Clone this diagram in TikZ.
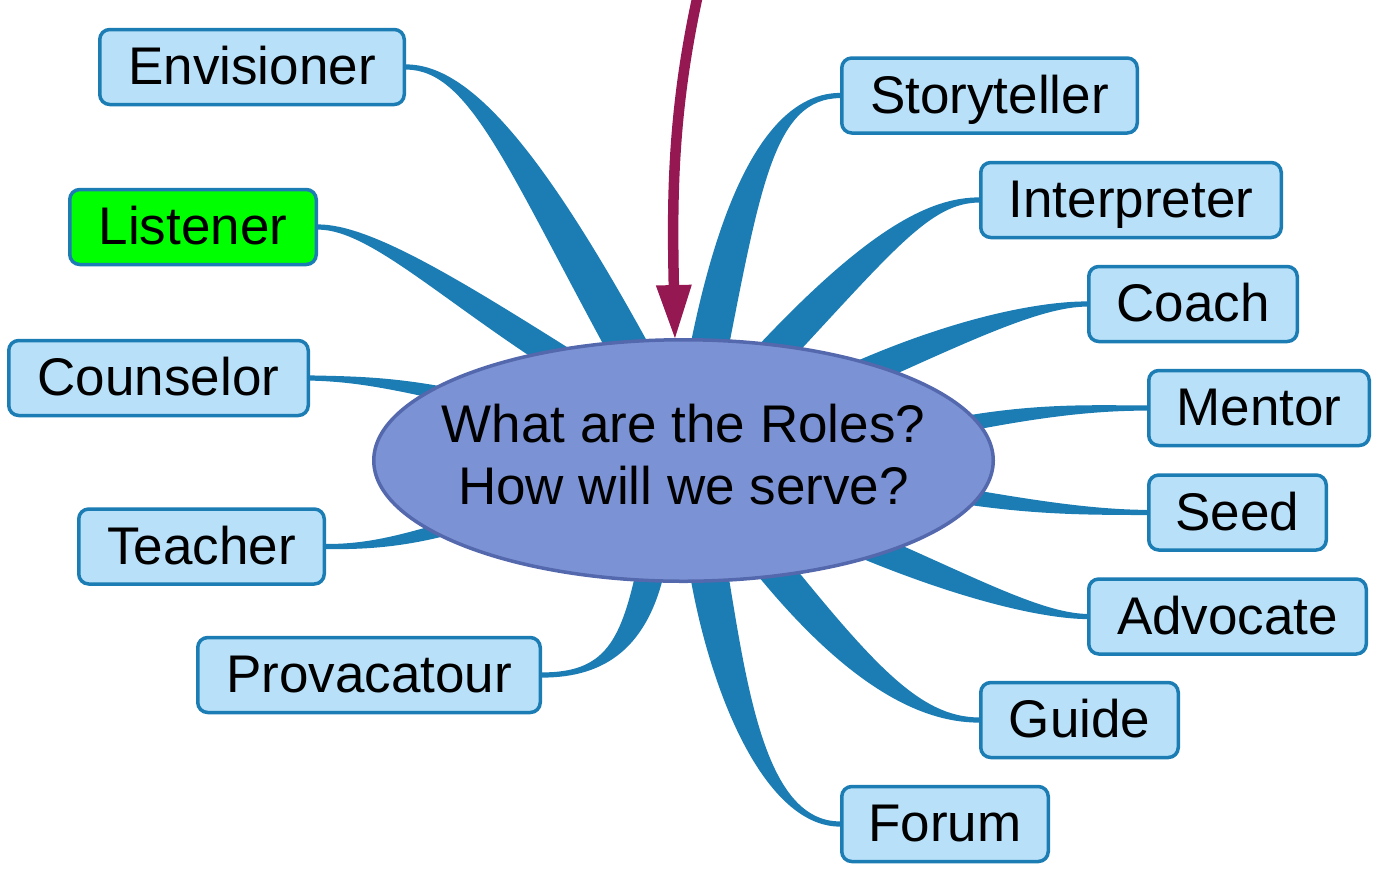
\documentclass[tikz,border=0pt]{standalone}
\usepackage{fontspec}
\setmainfont{Liberation Sans}
\usetikzlibrary{shapes.geometric,calc,arrows.meta,backgrounds}
\definecolor{branchblue}{HTML}{1B7DB3}
\definecolor{boxfill}{HTML}{B8E0F8}
\definecolor{hubfill}{HTML}{7B93D4}
\definecolor{hubline}{HTML}{5468AD}
\definecolor{arrowred}{HTML}{961852}
\definecolor{listengreen}{HTML}{00FF00}
% tapered branch: #1 thin end, #2 #3 controls, #4 thick end, #5 thin half-width, #6 thick half-width
\newcommand\twig[6]{%
\fill[branchblue] ($(#1)!#5!90:(#2)$) .. controls ($(#2)!#5!-90:(#1)$) and ($(#3)!#6!90:(#4)$) .. ($(#4)!#6!-90:(#3)$)
 -- ($(#4)!#6!90:(#3)$) .. controls ($(#3)!#6!-90:(#4)$) and ($(#2)!#5!90:(#1)$) .. ($(#1)!#5!-90:(#2)$) -- cycle;}
\tikzset{
  role/.style={draw=branchblue, line width=3.5pt, fill=boxfill, rounded corners=10pt,
    minimum height=75pt, inner sep=0pt, text height=38pt, text depth=3pt,
    font=\fontsize{53}{62}\selectfont},
  hub/.style={ellipse, draw=hubline, line width=3.5pt, fill=hubfill,
    minimum width=619.5pt, minimum height=241.5pt, inner sep=0pt},
  hubtext/.style={align=center, inner sep=0pt, font=\fontsize{53}{62}\selectfont},
  pointer/.style={draw=arrowred, line width=10.5pt,
    -{Triangle[length=53pt,width=36pt,line width=0pt]}},
}
\begin{document}
\begin{tikzpicture}[x=1pt,y=-1pt]
\useasboundingbox (0,0) rectangle (1397,887);
\node[hub] (c) at (683.5,460.5) {};
\node[hubtext] (q) at ($(c.center)+(0,-5.5)$) {What are the Roles?\\How will we serve?};
% left side
\node[role, minimum width=304.5pt] (env) at (252,67) {Envisioner};
\node[role, minimum width=246.5pt, fill=listengreen] (lis) at (193,227) {Listener};
\node[role, minimum width=299.5pt] (cou) at (158.5,378) {Counselor};
\node[role, minimum width=245.5pt] (tea) at (201.5,546.5) {Teacher};
\node[role, minimum width=342.5pt] (pro) at (369,675) {Provacatour};
% right side
\node[role, minimum width=295.5pt] (sto) at (989.5,95.5) {Storyteller};
\node[role, minimum width=300.5pt] (int) at (1131,200) {Interpreter};
\node[role, minimum width=208.5pt] (coa) at (1193,304) {Coach};
\node[role, minimum width=220.5pt] (men) at (1259,408) {Mentor};
\node[role, minimum width=177.5pt] (see) at (1237.5,512.5) {Seed};
\node[role, minimum width=277.5pt] (adv) at (1227.5,616.5) {Advocate};
\node[role, minimum width=197.5pt] (gui) at (1079.5,720) {Guide};
\node[role, minimum width=206.5pt] (forum) at (945,824) {Forum};
% thick ends, inside the hub
\coordinate (eEnv) at ($(c.center)!0.85!(c.116)$);
\coordinate (eLis) at ($(c.center)!0.85!(c.140)$);
\coordinate (eCou) at ($(c.center)!0.85!(c.164)$);
\coordinate (eTea) at ($(c.center)!0.85!(c.196.6)$);
\coordinate (ePro) at ($(c.center)!0.85!(c.253)$);
\coordinate (eSto) at ($(c.center)!0.85!(c.77.4)$);
\coordinate (eInt) at ($(c.center)!0.85!(c.50.4)$);
\coordinate (eCoa) at ($(c.center)!0.85!(c.26.1)$);
\coordinate (eMen) at ($(c.center)!0.85!(c.7.9)$);
\coordinate (eSee) at ($(c.center)!0.85!(c.-7.5)$);
\coordinate (eAdv) at ($(c.center)!0.85!(c.-25.3)$);
\coordinate (eGui) at ($(c.center)!0.85!(c.-50.3)$);
\coordinate (eFor) at ($(c.center)!0.85!(c.-77.5)$);
\begin{pgfonlayer}{background}
\twig{env.east}{470,67}{525,160}{eEnv}{2.6pt}{20pt}
\twig{lis.east}{370,227}{450,290}{eLis}{2.6pt}{14pt}
\twig{cou.east}{360,379}{400,384}{eCou}{2.6pt}{7pt}
\twig{tea.east}{370,547}{410,540}{eTea}{2.6pt}{7pt}
\twig{pro.east}{605,675}{635,645}{ePro}{2.6pt}{14pt}
\twig{sto.west}{775,96}{742,180}{eSto}{2.6pt}{19pt}
\twig{int.west}{930,200}{880,240}{eInt}{2.6pt}{17pt}
\twig{coa.west}{1040,304}{960,330}{eCoa}{2.6pt}{14pt}
\twig{men.west}{1090,408}{1030,410}{eMen}{2.6pt}{8pt}
\twig{see.west}{1090,512}{1030,508}{eSee}{2.6pt}{8pt}
\twig{adv.west}{1040,616}{960,585}{eAdv}{2.6pt}{14pt}
\twig{gui.west}{920,720}{860,675}{eGui}{2.6pt}{17pt}
\twig{forum.west}{765,824}{728,690}{eFor}{2.6pt}{19pt}
\end{pgfonlayer}
\coordinate (src) at (699,-10);
\draw[pointer] (src) .. controls (672,110) and (672,200) .. (c.94);
\end{tikzpicture}
\end{document}
